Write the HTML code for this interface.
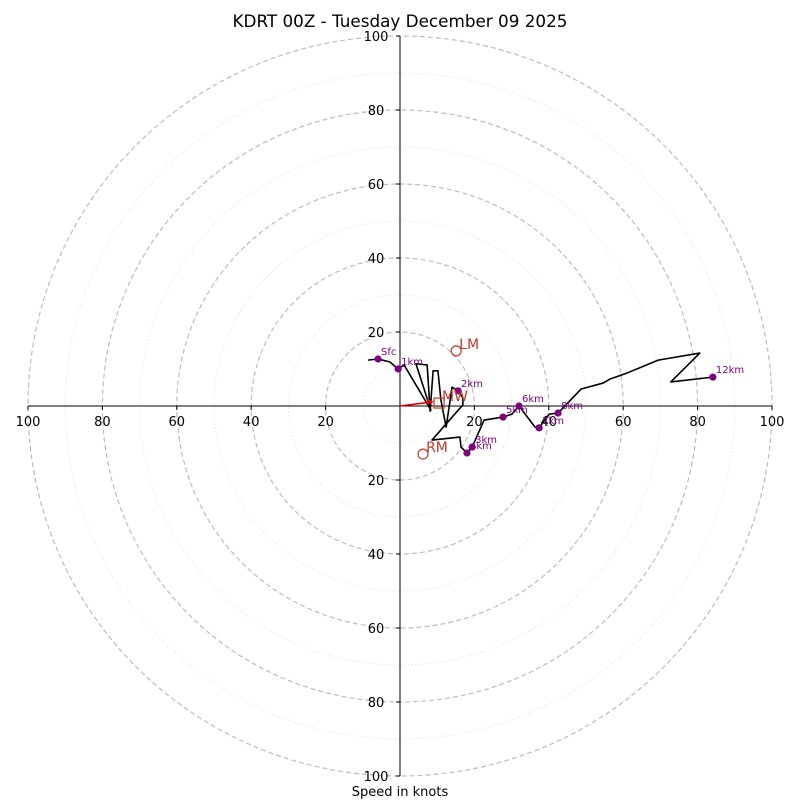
<!DOCTYPE html>
<html><head><meta charset="utf-8"><style>
html,body{margin:0;padding:0;background:#fff;}
svg{display:block;font-family:"DejaVu Sans","Liberation Sans",sans-serif;}
</style></head><body>
<svg id="chart" width="800" height="800" viewBox="0 0 800 800">
<rect width="800" height="800" fill="#fff"/>
<text x="400" y="27" font-size="16.8" text-anchor="middle">KDRT 00Z - Tuesday December 09 2025</text>
<g id="rings"></g>
<g id="axes"></g>
<g id="trace"></g>
<g id="markers"></g>
<g id="storm"></g>
<text x="400" y="796" font-size="13" text-anchor="middle">Speed in knots</text>
</svg>
<script>
const ringSpeeds=[10,20,30,40,50,60,70,80,90,100];
const tickLabels=[20,40,60,80,100];
const pathU=[-8.6,-5.9,-2.7,-0.5,1.1,8.3,4.3,7.3,8.1,8.9,10.2,11.0,12.4,14.0,15.6,16.9,16.9,8.6,16.1,16.4,18.0,19.4,22.6,27.7,30.1,32.0,36.3,37.4,40.1,42.5,48.7,54.6,56.5,61.0,69.4,80.6,72.8,84.1];
const pathV=[12.4,12.7,11.9,10.0,11.1,-1.1,11.4,11.1,-1.4,9.5,9.5,1.6,-5.7,5.1,4.1,2.2,0.3,-9.2,-8.4,-11.1,-12.7,-11.1,-3.8,-3.0,-2.2,0,-5.7,-5.9,-2.2,-1.9,4.6,6.2,7.3,8.9,12.4,14.3,6.5,7.8];
const markerLabels=["Sfc","1km","2km","3km","4km","5km","6km","7km","8km","12km"];
const markerU=[-5.9,-0.5,15.6,19.4,18.0,27.7,32.0,37.4,42.5,84.1];
const markerV=[12.7,10.0,4.1,-11.1,-12.7,-3.0,0,-5.9,-1.9,7.8];
const stormLabels=["LM","RM","MW"];
const stormU=[15.1,6.2,10.5];
const stormV=[14.9,-13.0,0.8];
const shearU=[0,8.6];
const shearV=[0,1.1];

const NS="http://www.w3.org/2000/svg";
const cx=400,cy=406,kx=3.72,ky=3.70;
const X=u=>cx+u*kx, Y=v=>cy-v*ky;
function mk(tag,attrs,parent){const e=document.createElementNS(NS,tag);for(const k in attrs)e.setAttribute(k,attrs[k]);parent.appendChild(e);return e;}
const rings=document.getElementById('rings'),axes=document.getElementById('axes'),trace=document.getElementById('trace'),markers=document.getElementById('markers'),storm=document.getElementById('storm');
ringSpeeds.forEach(s=>{
  const major=s%20===0;
  const e=mk('ellipse',{cx:cx,cy:cy,rx:s*kx,ry:s*ky,fill:'none',stroke:major?'#bdbdbd':'#dcdcdc','stroke-width':major?1.2:1,'stroke-dasharray':major?'5,3':'1,2.5'},rings);
  
  
});
mk('line',{x1:X(-100),y1:cy,x2:X(100),y2:cy,stroke:'#000','stroke-width':1},axes);
mk('line',{x1:cx,y1:Y(100),x2:cx,y2:Y(-100),stroke:'#000','stroke-width':1},axes);
tickLabels.forEach(t=>{
  [-1,1].forEach(sg=>{
    const tx=mk('text',{x:X(sg*t),y:cy+20,'font-size':13,'text-anchor':'middle'},axes);tx.textContent=t;
    
    
    mk('line',{x1:X(sg*t),y1:cy,x2:X(sg*t),y2:cy+4,stroke:'#000'},axes);
    const ty=mk('text',{x:cx-24,y:Y(sg*t)+5,'font-size':13,'text-anchor':'middle'},axes);ty.textContent=t;
    
    
    mk('line',{x1:cx-4,y1:Y(sg*t),x2:cx,y2:Y(sg*t),stroke:'#000'},axes);
  });
});
const pl=mk('polyline',{points:pathU.map((u,i)=>X(u)+','+Y(pathV[i])).join(' '),fill:'none',stroke:'#000','stroke-width':1.6,'stroke-linejoin':'round'},trace);


markerLabels.forEach((l,i)=>{
  const c=mk('circle',{cx:X(markerU[i]),cy:Y(markerV[i]),r:3.6,fill:'#800080'},markers);
  
  
  const t=mk('text',{x:X(markerU[i])+3,y:Y(markerV[i])-4,'font-size':10,fill:'#800080'},markers);t.textContent=l;
  
  
});
const sh=mk('line',{x1:X(shearU[0]),y1:Y(shearV[0]),x2:X(shearU[1]),y2:Y(shearV[1]),stroke:'#e00000','stroke-width':1.6},storm);


mk('polygon',{points:`${X(shearU[1])+2},${Y(shearV[1])} ${X(shearU[1])-5},${Y(shearV[1])-3} ${X(shearU[1])-5},${Y(shearV[1])+3}`,fill:'#e00000'},storm);
stormLabels.forEach((l,i)=>{
  const x=X(stormU[i]),y=Y(stormV[i]);
  const m=l==='MW'?mk('rect',{x:x-5,y:y-5,width:10,height:10,fill:'none',stroke:'#c0392b','stroke-width':1.2},storm):mk('circle',{cx:x,cy:y,r:5,fill:'none',stroke:'#c0392b','stroke-width':1.2},storm);
  
  
  const t=mk('text',{x:x+3,y:y-2,'font-size':14,fill:'#c0392b'},storm);t.textContent=l;
  
  
});
</script>
</body></html>
